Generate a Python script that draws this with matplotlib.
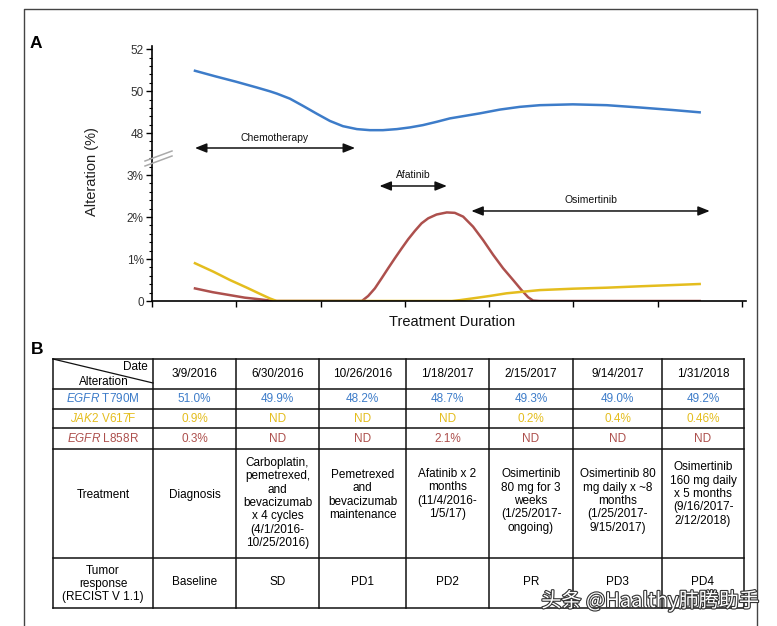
import numpy as np
import matplotlib.pyplot as plt
import matplotlib.patheffects as pe

plt.rcParams['font.family'] = ['Liberation Sans', 'DejaVu Sans']
plt.rcParams['mathtext.fontset'] = 'custom'
plt.rcParams['mathtext.rm'] = 'Liberation Sans'
plt.rcParams['mathtext.it'] = 'Liberation Sans:italic'

# ---- panel A: alteration (%) along treatment duration ----
t790m_x = [0.510, 0.747, 0.996, 1.246, 1.400, 1.483, 1.637, 1.791, 1.957, 2.111, 2.266, 2.432,
           2.586, 2.740, 2.906, 3.061, 3.215, 3.381, 3.535, 3.654, 3.891, 4.128, 4.365, 4.603,
           4.994, 5.397, 5.789, 6.180, 6.500]
t790m_y = [50.97, 50.71, 50.45, 50.17, 49.99, 49.88, 49.64, 49.30, 48.92, 48.58, 48.33, 48.19,
           48.14, 48.14, 48.19, 48.27, 48.38, 48.54, 48.70, 48.78, 48.94, 49.12, 49.25, 49.33,
           49.37, 49.33, 49.22, 49.10, 48.99]

jak2_x = [0.510, 0.727, 0.925, 1.123, 1.281, 1.400, 1.479, 3.560, 3.654, 3.812, 4.009, 4.207,
          4.405, 4.603, 4.997, 5.394, 5.789, 6.183, 6.500]
jak2_y = [0.90, 0.70, 0.50, 0.32, 0.17, 0.06, 0.0, 0.0, 0.02, 0.064, 0.12, 0.183,
          0.222, 0.26, 0.293, 0.317, 0.35, 0.38, 0.405]

l858r_x = [0.510, 0.720, 0.925, 1.100, 1.280, 1.440, 2.491, 2.566, 2.645, 2.725, 2.803, 2.883,
           2.962, 3.040, 3.120, 3.199, 3.278, 3.377, 3.499, 3.594, 3.693, 3.811, 3.930, 4.049,
           4.167, 4.286, 4.386, 4.464, 4.523, 4.603, 6.500]
l858r_y = [0.30, 0.21, 0.14, 0.08, 0.04, 0.0, 0.0, 0.12, 0.30, 0.54, 0.78, 1.02,
           1.25, 1.47, 1.67, 1.85, 1.97, 2.06, 2.11, 2.10, 2.01, 1.77, 1.45, 1.10,
           0.78, 0.50, 0.26, 0.09, 0.01, 0.0, 0.0]

therapies = ['Chemotherapy', 'Afatinib', 'Osimertinib']
therapy_start = [0.51, 2.70, 3.79]
therapy_end = [2.41, 3.50, 6.62]

# ---- panel B: table ----
dates = ['3/9/2016', '6/30/2016', '10/26/2016', '1/18/2017', '2/15/2017', '9/14/2017', '1/31/2018']
t790m_vals = ['51.0%', '49.9%', '48.2%', '48.7%', '49.3%', '49.0%', '49.2%']
jak2_vals = ['0.9%', 'ND', 'ND', 'ND', '0.2%', '0.4%', '0.46%']
l858r_vals = ['0.3%', 'ND', 'ND', '2.1%', 'ND', 'ND', 'ND']
treatments = ['Diagnosis',
              'Carboplatin,\npemetrexed,\nand\nbevacizumab\nx 4 cycles\n(4/1/2016-\n10/25/2016)',
              'Pemetrexed\nand\nbevacizumab\nmaintenance',
              'Afatinib x 2\nmonths\n(11/4/2016-\n1/5/17)',
              'Osimertinib\n80 mg for 3\nweeks\n(1/25/2017-\nongoing)',
              'Osimertinib 80\nmg daily x ~8\nmonths\n(1/25/2017-\n9/15/2017)',
              'Osimertinib\n160 mg daily\nx 5 months\n(9/16/2017-\n2/12/2018)']
responses = ['Baseline', 'SD', 'PD1', 'PD2', 'PR', 'PD3', 'PD4']

BLUE = '#3d7cc9'
YELLOW = '#e4bd1e'
RED = '#ad504d'


def fwd(v):
    v = np.asarray(v, dtype=float)
    return np.where(v <= 3, v, np.where(v >= 48, 4 + (v - 48) / 2, 3 + (v - 3) / 45))


def inv(s):
    s = np.asarray(s, dtype=float)
    return np.where(s <= 3, s, np.where(s >= 4, 48 + (s - 4) * 2, 3 + (s - 3) * 45))


W, H = 777, 626
fig = plt.figure(figsize=(W / 100, H / 100), dpi=100)

# chart axes, placed in pixel terms
x0, x1, ytop, ybot = 152, 746, 46, 301
ax = fig.add_axes([x0 / W, 1 - ybot / H, (x1 - x0) / W, (ybot - ytop) / H])
ax.patch.set_visible(False)
ax.set_yscale('function', functions=(fwd, inv))
ax.plot(t790m_x, t790m_y, color=BLUE, lw=1.8, solid_joinstyle='round')
ax.plot(l858r_x, l858r_y, color=RED, lw=1.8, solid_joinstyle='round')
ax.plot(jak2_x, jak2_y, color=YELLOW, lw=1.8, solid_joinstyle='round')
ax.set_xlim(0, 7.05)
ax.set_ylim(0, 52.15)
ax.set_xticks(range(8))
ax.set_xticklabels([])
ax.set_yticks([0, 1, 2, 3, 48, 50, 52], labels=['0', '1%', '2%', '3%', '48', '50', '52'])
ax.set_yticks(inv(np.arange(0, 6.01, 0.2)), minor=True)
ax.tick_params(axis='y', which='major', length=4, width=1, pad=2, labelsize=8.5, labelcolor='#333')
ax.tick_params(axis='y', which='minor', length=2.2, width=0.8)
ax.tick_params(axis='x', which='major', length=4, width=1)
for s in ['top', 'right']:
    ax.spines[s].set_visible(False)
for s in ['left', 'bottom']:
    ax.spines[s].set_linewidth(1.2)

arrow_y = [0.600, 0.451, 0.353]
label_y = [0.639, 0.494, 0.396]
for name, a, b, ya, yl in zip(therapies, therapy_start, therapy_end, arrow_y, label_y):
    ax.annotate('', xy=(b, ya), xytext=(a, ya),
                xycoords=('data', 'axes fraction'), textcoords=('data', 'axes fraction'),
                arrowprops=dict(arrowstyle='<|-|>,head_length=0.7,head_width=0.28',
                                color='#111', lw=1.1, mutation_scale=10, shrinkA=0, shrinkB=0))
    ax.text((a + b) / 2, yl, name, transform=ax.get_xaxis_transform(),
            ha='center', va='center', fontsize=7.5, color='#111')

# overlay in pixel coordinates for frame, labels and table
ov = fig.add_axes([0, 0, 1, 1], zorder=5)
ov.patch.set_visible(False)
ov.set_xlim(0, W)
ov.set_ylim(H, 0)
ov.axis('off')

# outer frame
ov.plot([24, 24, 757, 757], [H, 9, 9, H], color='#444', lw=1)

ov.text(36, 43, 'A', fontsize=12.5, fontweight='bold', ha='center', va='center')
ov.text(37, 349, 'B', fontsize=12.5, fontweight='bold', ha='center', va='center')
ov.text(92, 172, 'Alteration (%)', rotation=90, fontsize=10.5, ha='center', va='center', color='#222')
ov.text(452, 322, 'Treatment Duration', fontsize=10.5, ha='center', va='center', color='#111')

# axis break marks
for dy in (0, 5):
    ov.plot([145, 172], [161 + dy, 151 + dy], color='#aaa', lw=1.1)

# table grid
col_x = [53, 153, 236, 319, 406, 489, 573, 662, 744]
row_y = [359, 389, 409, 428, 449, 558, 608]
for yy in row_y:
    ov.plot([col_x[0], col_x[-1]], [yy, yy], color='#111', lw=1.1)
for xx in col_x:
    ov.plot([xx, xx], [row_y[0], row_y[-1]], color='#111', lw=1.1)
ov.plot([col_x[0], col_x[1]], [row_y[0], 383], color='#111', lw=0.9)

fs = 8.5
ov.text(148, 367, 'Date', fontsize=fs, ha='right', va='center')
ov.text(104, 382, 'Alteration', fontsize=fs, ha='center', va='center')

centers = [(col_x[i] + col_x[i + 1]) / 2 for i in range(len(col_x) - 1)]
row_c = [(row_y[i] + row_y[i + 1]) / 2 for i in range(len(row_y) - 1)]

ov.text(centers[0], row_c[1], r'$\it{EGFR}$ T790M', fontsize=fs, ha='center', va='center', color=BLUE)
ov.text(centers[0], row_c[2], r'$\it{JAK2}$ V617F', fontsize=fs, ha='center', va='center', color=YELLOW)
ov.text(centers[0], row_c[3], r'$\it{EGFR}$ L858R', fontsize=fs, ha='center', va='center', color=RED)
ov.text(centers[0], 495, 'Treatment', fontsize=fs, ha='center', va='center')
ov.text(centers[0], 584, 'Tumor\nresponse\n(RECIST V 1.1)', fontsize=fs, ha='center', va='center',
        linespacing=1.12)

treat_y = [495, 503, 495, 494, 501, 501, 494]
for i in range(len(dates)):
    cx = centers[i + 1]
    ov.text(cx, row_c[0], dates[i], fontsize=fs, ha='center', va='center')
    ov.text(cx, row_c[1], t790m_vals[i], fontsize=fs, ha='center', va='center', color=BLUE)
    ov.text(cx, row_c[2], jak2_vals[i], fontsize=fs, ha='center', va='center', color=YELLOW)
    ov.text(cx, row_c[3], l858r_vals[i], fontsize=fs, ha='center', va='center', color=RED)
    ov.text(cx, treat_y[i], treatments[i], fontsize=fs, ha='center', va='center', linespacing=1.15)
    ov.text(cx, 582, responses[i], fontsize=fs, ha='center', va='center')

# watermark
ov.text(650, 601, '头条 @Haalthy肺腾助手', fontsize=14.5, ha='center', va='center', color='white',
        family=['Noto Sans CJK SC', 'DejaVu Sans'],
        path_effects=[pe.withStroke(linewidth=1.6, foreground='#333')])

fig.savefig('out.png', dpi=100, facecolor='white')
